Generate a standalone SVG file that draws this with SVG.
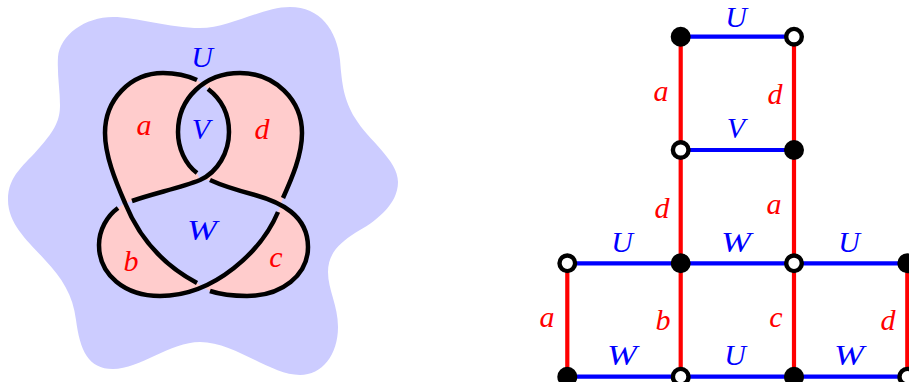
<svg xmlns="http://www.w3.org/2000/svg" width="909" height="382" viewBox="0 0 909 382">
<style>
text{font-family:"Liberation Serif","DejaVu Serif",serif;font-style:italic;font-size:30px;text-anchor:middle}
.r{fill:#ff0000}
.u{fill:#0000ff}
.p{fill:#ffcccc;stroke:none}
.k{fill:none;stroke:#000;stroke-width:4.5}
.eb{stroke:#0000ff;stroke-width:4.2;fill:none}
.er{stroke:#ff0000;stroke-width:4.2;fill:none}
.f{fill:#000;stroke:#000;stroke-width:4.4}
.o{fill:#fff;stroke:#000;stroke-width:4.4}
</style>
<rect width="909" height="382" fill="#fff"/>
<g id="knot">
<path id="surface" fill="#ccccff" d="M58,57 C60,35 85,17 113,17 C135,17 170,28 200,28 C230,28 262,7 290,7 C320,7 337,30 340,60 C342,85 344,100 355,118 C368,140 398,160 398,182 C398,205 375,222 355,233 C340,243 328,253 328,272 C328,290 338,305 338,327 C338,355 322,375 300,375 C270,375 235,342 200,342 C170,342 140,369 113,369 C88,369 80,350 76,320 C73,295 62,278 45,260 C30,243 8,225 8,200 C8,175 25,165 40,147 C55,130 60,120 60,105 C60,90 57,75 58,57Z"/>
<path class="p" d="M203,84 L197,80 C186,75 175,73 163,73 C130,73 105,100 105,133 C105,155 115,180 125,203 L132,201 C155,193 180,188 200,180 L197,173 C185,164 178,148 178,132 C178,112 188,95 203,84Z"/>
<path class="p" d="M203,84 C212,77 226,73 240,73 C275,73 302,100 302,133 C302,155 292,178 283,198 L280,206 L255,195 C240,191 225,187 210,180 L200,180 C218,172 229,152 229,132 C229,114 221,99 208,89Z"/>
<path class="p" d="M125,203 L118,208 C107,216 99,230 99,245 C99,275 125,296 160,296 C175,296 190,292 203,287 L197,283 C165,266 140,240 125,203Z"/>
<path class="p" d="M281,205 L278,212 C265,245 235,275 203,287 L210,291 C222,295 234,296 247,296 C282,296 308,275 308,247 C308,225 295,212 281,205Z"/>
<path class="k" d="M197,80 C186,75 175,73 163,73 C130,73 105,100 105,133 C105,155 115,180 125,203 C140,240 165,266 197,283"/>
<path class="k" d="M210,291 C222,295 234,296 247,296 C282,296 308,275 308,247 C308,215 280,202 255,195 C240,191 225,187 210,180"/>
<path class="k" d="M197,173 C185,164 178,148 178,132 C178,98 205,73 240,73 C275,73 302,100 302,133 C302,155 292,178 283,198"/>
<path class="k" d="M278,212 C262,250 215,296 160,296 C125,296 99,275 99,245 C99,230 107,216 118,208"/>
<path class="k" d="M132,201 C155,193 180,188 200,180 C218,172 229,152 229,132 C229,114 221,99 208,89"/>
<text class="u" x="202" y="67">U</text>
<text class="r" x="144" y="135">a</text>
<text class="u" x="201" y="139">V</text>
<text class="r" x="262" y="139">d</text>
<text class="u" x="202" y="240" textLength="30" lengthAdjust="spacingAndGlyphs">W</text>
<text class="r" x="131" y="271">b</text>
<text class="r" x="276" y="267">c</text>
</g>
<g id="connectors">
<path class="er" d="M680.7,36.7V376.7M794,36.7V376.7M567.3,263.3V376.7M907.3,263.3V376.7"/>
<path class="eb" d="M680.7,36.7H794M680.7,150H794M567.3,263.3H907.3M567.3,376.7H907.3"/>
</g>
<g id="edge-labels">
<text class="u" x="736" y="27">U</text>
<text class="r" x="661" y="101">a</text>
<text class="r" x="775" y="104">d</text>
<text class="u" x="736" y="138">V</text>
<text class="r" x="662" y="218">d</text>
<text class="r" x="774" y="214">a</text>
<text class="u" x="622" y="252">U</text>
<text class="u" x="736" y="252" textLength="30" lengthAdjust="spacingAndGlyphs">W</text>
<text class="u" x="849" y="252">U</text>
<text class="r" x="547" y="327">a</text>
<text class="r" x="663" y="330">b</text>
<text class="r" x="776" y="327">c</text>
<text class="r" x="888" y="330">d</text>
<text class="u" x="622" y="365" textLength="30" lengthAdjust="spacingAndGlyphs">W</text>
<text class="u" x="735" y="365">U</text>
<text class="u" x="849" y="365" textLength="30" lengthAdjust="spacingAndGlyphs">W</text>
</g>
<g id="n1"><circle class="f" cx="680.7" cy="36.7" r="7.8"/></g>
<g id="n2"><circle class="o" cx="794" cy="36.7" r="7.8"/></g>
<g id="n3"><circle class="o" cx="680.7" cy="150" r="7.8"/></g>
<g id="n4"><circle class="f" cx="794" cy="150" r="7.8"/></g>
<g id="n5"><circle class="o" cx="567.3" cy="263.3" r="7.8"/></g>
<g id="n6"><circle class="f" cx="680.7" cy="263.3" r="7.8"/></g>
<g id="n7"><circle class="o" cx="794" cy="263.3" r="7.8"/></g>
<g id="n8"><circle class="f" cx="907.3" cy="263.3" r="7.8"/></g>
<g id="n9"><circle class="f" cx="567.3" cy="376.7" r="7.8"/></g>
<g id="n10"><circle class="o" cx="680.7" cy="376.7" r="7.8"/></g>
<g id="n11"><circle class="f" cx="794" cy="376.7" r="7.8"/></g>
<g id="n12"><circle class="o" cx="907.3" cy="376.7" r="7.8"/></g>
</svg>
